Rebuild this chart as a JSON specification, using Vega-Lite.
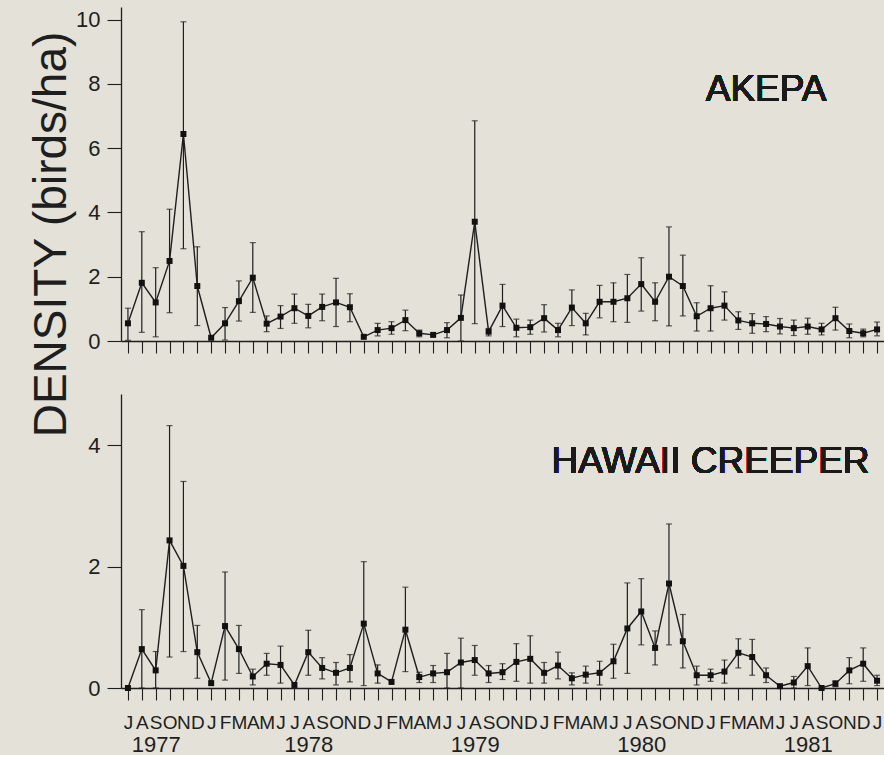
{
  "$schema": "https://vega.github.io/schema/vega-lite/v6.json",
  "background": "#e3e1d8",
  "padding": {"left": 27, "top": 7, "right": 0, "bottom": 0},
  "spacing": 53,
  "bounds": "flush",
  "config": {
    "view": {"stroke": null},
    "axis": {"domainColor": "#1e1e1e", "tickColor": "#1e1e1e", "labelColor": "#1e1e1e", "titleColor": "#1e1e1e", "grid": false, "domainWidth": 1.3, "tickWidth": 1.1, "labelFont": "Liberation Sans", "titleFont": "Liberation Sans", "titleFontWeight": "normal"},
    "axisY": {"tickSize": 14, "labelPadding": 7, "labelFontSize": 22},
    "text": {"font": "Liberation Sans", "color": "#1a1a1a"}
  },
  "datasets": {
    "birds": [
      {"sp":"A","m":"1977-07","d":0.55,"lo":0.02,"hi":1.02},
      {"sp":"A","m":"1977-08","d":1.81,"lo":0.27,"hi":3.40},
      {"sp":"A","m":"1977-09","d":1.20,"lo":0.13,"hi":2.28},
      {"sp":"A","m":"1977-10","d":2.49,"lo":0.88,"hi":4.10},
      {"sp":"A","m":"1977-11","d":6.44,"lo":2.87,"hi":9.93},
      {"sp":"A","m":"1977-12","d":1.71,"lo":0.48,"hi":2.93},
      {"sp":"A","m":"1978-01","d":0.10,"lo":null,"hi":null},
      {"sp":"A","m":"1978-02","d":0.55,"lo":0.03,"hi":1.04},
      {"sp":"A","m":"1978-03","d":1.24,"lo":0.62,"hi":1.87},
      {"sp":"A","m":"1978-04","d":1.97,"lo":0.89,"hi":3.06},
      {"sp":"A","m":"1978-05","d":0.54,"lo":0.29,"hi":0.78},
      {"sp":"A","m":"1978-06","d":0.76,"lo":0.39,"hi":1.10},
      {"sp":"A","m":"1978-07","d":1.02,"lo":0.55,"hi":1.46},
      {"sp":"A","m":"1978-08","d":0.78,"lo":0.41,"hi":1.14},
      {"sp":"A","m":"1978-09","d":1.06,"lo":0.63,"hi":1.46},
      {"sp":"A","m":"1978-10","d":1.20,"lo":0.45,"hi":1.95},
      {"sp":"A","m":"1978-11","d":1.05,"lo":0.60,"hi":1.47},
      {"sp":"A","m":"1978-12","d":0.13,"lo":null,"hi":null},
      {"sp":"A","m":"1979-01","d":0.34,"lo":0.16,"hi":0.55},
      {"sp":"A","m":"1979-02","d":0.40,"lo":0.21,"hi":0.60},
      {"sp":"A","m":"1979-03","d":0.65,"lo":0.32,"hi":0.96},
      {"sp":"A","m":"1979-04","d":0.24,"lo":0.13,"hi":0.34},
      {"sp":"A","m":"1979-05","d":0.19,"lo":null,"hi":null},
      {"sp":"A","m":"1979-06","d":0.34,"lo":0.10,"hi":0.57},
      {"sp":"A","m":"1979-07","d":0.72,"lo":0,"hi":1.43},
      {"sp":"A","m":"1979-08","d":3.71,"lo":0.54,"hi":6.85},
      {"sp":"A","m":"1979-09","d":0.29,"lo":0.16,"hi":0.39},
      {"sp":"A","m":"1979-10","d":1.10,"lo":0.45,"hi":1.76},
      {"sp":"A","m":"1979-11","d":0.41,"lo":0.13,"hi":0.68},
      {"sp":"A","m":"1979-12","d":0.43,"lo":0.21,"hi":0.65},
      {"sp":"A","m":"1980-01","d":0.71,"lo":0.28,"hi":1.13},
      {"sp":"A","m":"1980-02","d":0.34,"lo":0.13,"hi":0.55},
      {"sp":"A","m":"1980-03","d":1.04,"lo":0.48,"hi":1.59},
      {"sp":"A","m":"1980-04","d":0.55,"lo":0.19,"hi":0.86},
      {"sp":"A","m":"1980-05","d":1.22,"lo":0.72,"hi":1.73},
      {"sp":"A","m":"1980-06","d":1.22,"lo":0.60,"hi":1.81},
      {"sp":"A","m":"1980-07","d":1.33,"lo":0.58,"hi":2.07},
      {"sp":"A","m":"1980-08","d":1.77,"lo":0.93,"hi":2.59},
      {"sp":"A","m":"1980-09","d":1.22,"lo":0.63,"hi":1.81},
      {"sp":"A","m":"1980-10","d":2.00,"lo":0.47,"hi":3.55},
      {"sp":"A","m":"1980-11","d":1.71,"lo":0.78,"hi":2.67},
      {"sp":"A","m":"1980-12","d":0.77,"lo":0.31,"hi":1.19},
      {"sp":"A","m":"1981-01","d":1.02,"lo":0.31,"hi":1.72},
      {"sp":"A","m":"1981-02","d":1.10,"lo":0.65,"hi":1.53},
      {"sp":"A","m":"1981-03","d":0.64,"lo":0.36,"hi":0.91},
      {"sp":"A","m":"1981-04","d":0.55,"lo":0.24,"hi":0.85},
      {"sp":"A","m":"1981-05","d":0.53,"lo":0.29,"hi":0.76},
      {"sp":"A","m":"1981-06","d":0.45,"lo":0.22,"hi":0.70},
      {"sp":"A","m":"1981-07","d":0.40,"lo":0.17,"hi":0.65},
      {"sp":"A","m":"1981-08","d":0.45,"lo":0.21,"hi":0.71},
      {"sp":"A","m":"1981-09","d":0.36,"lo":0.19,"hi":0.55},
      {"sp":"A","m":"1981-10","d":0.71,"lo":0.34,"hi":1.05},
      {"sp":"A","m":"1981-11","d":0.31,"lo":0.10,"hi":0.53},
      {"sp":"A","m":"1981-12","d":0.24,"lo":0.13,"hi":0.37},
      {"sp":"A","m":"1982-01","d":0.36,"lo":0.16,"hi":0.59},
      {"sp":"C","m":"1977-07","d":0.00,"lo":null,"hi":null},
      {"sp":"C","m":"1977-08","d":0.64,"lo":0,"hi":1.29},
      {"sp":"C","m":"1977-09","d":0.29,"lo":0,"hi":0.60},
      {"sp":"C","m":"1977-10","d":2.43,"lo":0.51,"hi":4.32},
      {"sp":"C","m":"1977-11","d":2.01,"lo":0.60,"hi":3.40},
      {"sp":"C","m":"1977-12","d":0.59,"lo":0.16,"hi":1.03},
      {"sp":"C","m":"1978-01","d":0.08,"lo":null,"hi":null},
      {"sp":"C","m":"1978-02","d":1.02,"lo":0.13,"hi":1.91},
      {"sp":"C","m":"1978-03","d":0.64,"lo":0.24,"hi":1.03},
      {"sp":"C","m":"1978-04","d":0.19,"lo":0.05,"hi":0.31},
      {"sp":"C","m":"1978-05","d":0.40,"lo":0.21,"hi":0.57},
      {"sp":"C","m":"1978-06","d":0.38,"lo":0.08,"hi":0.69},
      {"sp":"C","m":"1978-07","d":0.05,"lo":null,"hi":null},
      {"sp":"C","m":"1978-08","d":0.59,"lo":0.21,"hi":0.95},
      {"sp":"C","m":"1978-09","d":0.33,"lo":0.15,"hi":0.50},
      {"sp":"C","m":"1978-10","d":0.25,"lo":0.05,"hi":0.42},
      {"sp":"C","m":"1978-11","d":0.33,"lo":0.10,"hi":0.55},
      {"sp":"C","m":"1978-12","d":1.06,"lo":0.04,"hi":2.08},
      {"sp":"C","m":"1979-01","d":0.24,"lo":0.08,"hi":0.38},
      {"sp":"C","m":"1979-02","d":0.10,"lo":null,"hi":null},
      {"sp":"C","m":"1979-03","d":0.96,"lo":0.27,"hi":1.66},
      {"sp":"C","m":"1979-04","d":0.18,"lo":0.09,"hi":0.26},
      {"sp":"C","m":"1979-05","d":0.24,"lo":0.09,"hi":0.37},
      {"sp":"C","m":"1979-06","d":0.26,"lo":0,"hi":0.57},
      {"sp":"C","m":"1979-07","d":0.42,"lo":0,"hi":0.82},
      {"sp":"C","m":"1979-08","d":0.46,"lo":0.21,"hi":0.70},
      {"sp":"C","m":"1979-09","d":0.24,"lo":0.09,"hi":0.37},
      {"sp":"C","m":"1979-10","d":0.26,"lo":0.14,"hi":0.40},
      {"sp":"C","m":"1979-11","d":0.43,"lo":0.11,"hi":0.73},
      {"sp":"C","m":"1979-12","d":0.48,"lo":0.08,"hi":0.86},
      {"sp":"C","m":"1980-01","d":0.25,"lo":0.08,"hi":0.42},
      {"sp":"C","m":"1980-02","d":0.37,"lo":0.15,"hi":0.59},
      {"sp":"C","m":"1980-03","d":0.16,"lo":0.05,"hi":0.25},
      {"sp":"C","m":"1980-04","d":0.22,"lo":0.08,"hi":0.36},
      {"sp":"C","m":"1980-05","d":0.25,"lo":0.05,"hi":0.44},
      {"sp":"C","m":"1980-06","d":0.44,"lo":0.16,"hi":0.72},
      {"sp":"C","m":"1980-07","d":0.98,"lo":0.24,"hi":1.73},
      {"sp":"C","m":"1980-08","d":1.26,"lo":0.71,"hi":1.80},
      {"sp":"C","m":"1980-09","d":0.66,"lo":0.38,"hi":0.94},
      {"sp":"C","m":"1980-10","d":1.72,"lo":0.71,"hi":2.70},
      {"sp":"C","m":"1980-11","d":0.77,"lo":0.33,"hi":1.21},
      {"sp":"C","m":"1980-12","d":0.21,"lo":0.05,"hi":0.36},
      {"sp":"C","m":"1981-01","d":0.21,"lo":0.11,"hi":0.31},
      {"sp":"C","m":"1981-02","d":0.27,"lo":0.08,"hi":0.46},
      {"sp":"C","m":"1981-03","d":0.58,"lo":0.33,"hi":0.81},
      {"sp":"C","m":"1981-04","d":0.51,"lo":0.21,"hi":0.80},
      {"sp":"C","m":"1981-05","d":0.21,"lo":0.09,"hi":0.33},
      {"sp":"C","m":"1981-06","d":0.03,"lo":null,"hi":null},
      {"sp":"C","m":"1981-07","d":0.09,"lo":0,"hi":0.19},
      {"sp":"C","m":"1981-08","d":0.36,"lo":0.04,"hi":0.66},
      {"sp":"C","m":"1981-09","d":0.00,"lo":null,"hi":null},
      {"sp":"C","m":"1981-10","d":0.07,"lo":0.02,"hi":0.12},
      {"sp":"C","m":"1981-11","d":0.29,"lo":0.07,"hi":0.50},
      {"sp":"C","m":"1981-12","d":0.40,"lo":0.11,"hi":0.66},
      {"sp":"C","m":"1982-01","d":0.12,"lo":0.04,"hi":0.21}
    ]
  },
  "data": {"name": "birds"},
  "vconcat": [
    {
      "width": 763,
      "height": 334,
      "transform": [{"filter": "datum.sp == 'A'"}],
      "layer": [
        {
          "mark": {"type": "rule", "color": "#1e1e1e", "strokeWidth": 1.2},
          "encoding": {
            "x": {"field": "m", "type": "ordinal", "scale": {"type": "point", "padding": 0.5},
                  "axis": {"title": null, "labels": false, "tickSize": 12}},
            "y": {"field": "lo", "type": "quantitative", "scale": {"domain": [0, 10.39], "nice": false},
                  "axis": {"title": "DENSITY (birds/ha)", "values": [0, 2, 4, 6, 8, 10], "titleFontSize": 46, "titleX": -56, "titleY": 227, "titleAngle": -90, "titleAlign": "center", "titleBaseline": "alphabetic"}},
            "y2": {"field": "hi"}
          }
        },
        {
          "mark": {"type": "tick", "orient": "horizontal", "size": 6, "thickness": 1.2, "color": "#1e1e1e"},
          "encoding": {
            "x": {"field": "m", "type": "ordinal", "axis": {"title": null, "labels": false, "tickSize": 12}},
            "y": {"field": "hi", "type": "quantitative",
                  "axis": {"title": "DENSITY (birds/ha)", "values": [0, 2, 4, 6, 8, 10], "titleFontSize": 46, "titleX": -56, "titleY": 227, "titleAngle": -90, "titleAlign": "center", "titleBaseline": "alphabetic"}}
          }
        },
        {
          "mark": {"type": "tick", "orient": "horizontal", "size": 6, "thickness": 1.2, "color": "#1e1e1e"},
          "encoding": {
            "x": {"field": "m", "type": "ordinal", "axis": {"title": null, "labels": false, "tickSize": 12}},
            "y": {"field": "lo", "type": "quantitative",
                  "axis": {"title": "DENSITY (birds/ha)", "values": [0, 2, 4, 6, 8, 10], "titleFontSize": 46, "titleX": -56, "titleY": 227, "titleAngle": -90, "titleAlign": "center", "titleBaseline": "alphabetic"}}
          }
        },
        {
          "mark": {"type": "line", "color": "#1e1e1e", "strokeWidth": 1.4},
          "encoding": {
            "x": {"field": "m", "type": "ordinal", "axis": {"title": null, "labels": false, "tickSize": 12}},
            "y": {"field": "d", "type": "quantitative",
                  "axis": {"title": "DENSITY (birds/ha)", "values": [0, 2, 4, 6, 8, 10], "titleFontSize": 46, "titleX": -56, "titleY": 227, "titleAngle": -90, "titleAlign": "center", "titleBaseline": "alphabetic"}}
          }
        },
        {
          "mark": {"type": "point", "shape": "square", "filled": true, "size": 36, "color": "#111111", "opacity": 1},
          "encoding": {
            "x": {"field": "m", "type": "ordinal", "axis": {"title": null, "labels": false, "tickSize": 12}},
            "y": {"field": "d", "type": "quantitative",
                  "axis": {"title": "DENSITY (birds/ha)", "values": [0, 2, 4, 6, 8, 10], "titleFontSize": 46, "titleX": -56, "titleY": 227, "titleAngle": -90, "titleAlign": "center", "titleBaseline": "alphabetic"}}
          }
        },
        {
          "mark": {"type": "text", "fontSize": 37, "align": "center", "baseline": "alphabetic"},
          "encoding": {
            "x": {"datum": "1981-05", "type": "ordinal", "axis": {"title": null, "labels": false, "tickSize": 12}},
            "y": {"datum": 7.47, "type": "quantitative",
                  "axis": {"title": "DENSITY (birds/ha)", "values": [0, 2, 4, 6, 8, 10], "titleFontSize": 46, "titleX": -56, "titleY": 227, "titleAngle": -90, "titleAlign": "center", "titleBaseline": "alphabetic"}},
            "text": {"value": "AKEPA"}
          }
        }
      ]
    },
    {
      "width": 763,
      "height": 294,
      "transform": [{"filter": "datum.sp == 'C'"}],
      "resolve": {"axis": {"x": "independent"}},
      "layer": [
        {
          "mark": {"type": "rule", "color": "#1e1e1e", "strokeWidth": 1.2},
          "encoding": {
            "x": {"field": "m", "type": "ordinal", "scale": {"type": "point", "padding": 0.5},
                  "axis": {"title": null, "orient": "bottom", "tickSize": 12, "labelPadding": 13, "labelFontSize": 19, "labelAngle": 0,
                           "labelExpr": "['J','F','M','A','M','J','J','A','S','O','N','D'][toNumber(substring(datum.value,5,7))-1]"}},
            "y": {"field": "lo", "type": "quantitative", "scale": {"domain": [0, 4.84], "nice": false},
                  "axis": {"title": null, "values": [0, 2, 4]}},
            "y2": {"field": "hi"}
          }
        },
        {
          "mark": {"type": "tick", "orient": "horizontal", "size": 6, "thickness": 1.2, "color": "#1e1e1e"},
          "encoding": {
            "x": {"field": "m", "type": "ordinal", "axis": null},
            "y": {"field": "hi", "type": "quantitative", "axis": {"title": null, "values": [0, 2, 4]}}
          }
        },
        {
          "mark": {"type": "tick", "orient": "horizontal", "size": 6, "thickness": 1.2, "color": "#1e1e1e"},
          "encoding": {
            "x": {"field": "m", "type": "ordinal", "axis": null},
            "y": {"field": "lo", "type": "quantitative", "axis": {"title": null, "values": [0, 2, 4]}}
          }
        },
        {
          "mark": {"type": "line", "color": "#1e1e1e", "strokeWidth": 1.4},
          "encoding": {
            "x": {"field": "m", "type": "ordinal", "axis": null},
            "y": {"field": "d", "type": "quantitative", "axis": {"title": null, "values": [0, 2, 4]}}
          }
        },
        {
          "mark": {"type": "point", "shape": "square", "filled": true, "size": 36, "color": "#111111", "opacity": 1},
          "encoding": {
            "x": {"field": "m", "type": "ordinal",
                  "axis": {"title": null, "orient": "bottom", "domain": false, "ticks": false, "tickSize": 0, "labelPadding": 46, "labelFontSize": 22, "labelAngle": 0,
                           "values": ["1977-09", "1978-08", "1979-08", "1980-08", "1981-08"], "labelExpr": "substring(datum.value,0,4)"}},
            "y": {"field": "d", "type": "quantitative", "axis": {"title": null, "values": [0, 2, 4]}}
          }
        },
        {
          "mark": {"type": "text", "fontSize": 37, "align": "center", "baseline": "alphabetic"},
          "encoding": {
            "x": {"datum": "1981-01", "type": "ordinal", "axis": null},
            "y": {"datum": 3.54, "type": "quantitative", "axis": {"title": null, "values": [0, 2, 4]}},
            "text": {"value": "HAWAII CREEPER"}
          }
        }
      ]
    }
  ]
}
